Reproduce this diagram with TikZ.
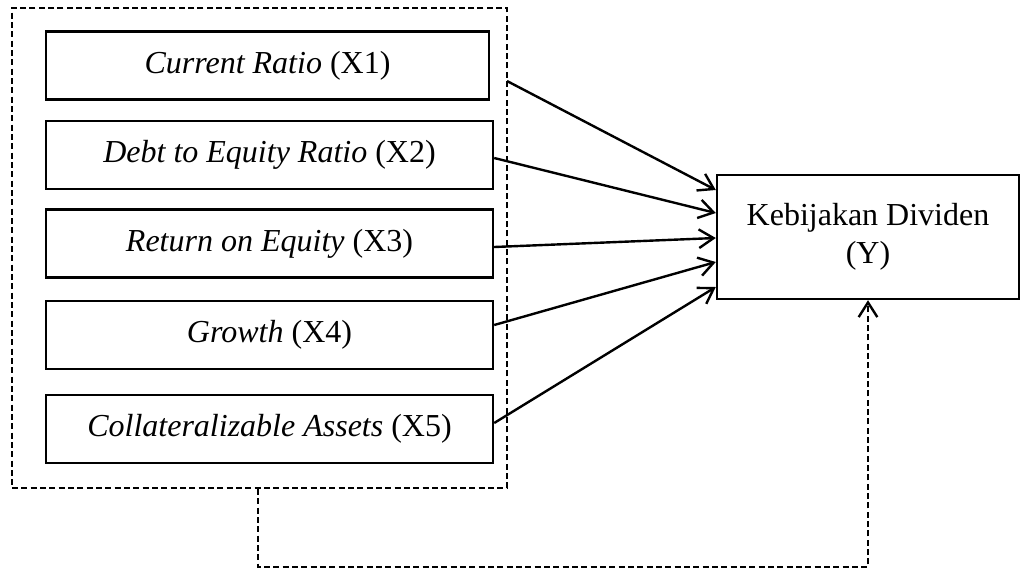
\documentclass[tikz,border=0pt]{standalone}
\usepackage{fontspec}
\setmainfont{Liberation Serif}
\usetikzlibrary{arrows.meta,calc}
\begin{document}
\begin{tikzpicture}[x=0.75pt,y=-0.75pt,
  varbox/.style={draw,line width=1.8pt,rectangle,minimum height=51pt,inner sep=0pt,
    font=\fontsize{24}{28}\selectfont},
  groupbox/.style={draw,dash pattern=on 4.5pt off 2.5pt,line width=1.5pt,rectangle,inner sep=0pt},
  ybox/.style={draw,line width=1.8pt,rectangle,inner sep=0pt,align=center,
    font=\fontsize{24}{28.5}\selectfont},
  arr/.style={line width=1.8pt,-{Straight Barb[length=11pt,width=14pt,line width=1.8pt]}},
  darr/.style={line width=1.5pt,dash pattern=on 4.5pt off 2.5pt,-{Straight Barb[length=11pt,width=14pt,line width=1.8pt]}}
]
\useasboundingbox (0,0) rectangle (1021,569);
\node[groupbox,minimum width=371.25pt,minimum height=360pt] (outer) at (259.5,248) {};
\node[varbox,minimum width=332.25pt] (b1) at (267.5,65.5) {\textit{Current Ratio} (X1)};
\node[varbox,minimum width=335.25pt] (b2) at (269.5,155) {\textit{Debt to Equity Ratio} (X2)};
\node[varbox,minimum width=335.25pt] (b3) at (269.5,243.5) {\textit{Return on Equity} (X3)};
\node[varbox,minimum width=335.25pt] (b4) at (269.5,335) {\textit{Growth} (X4)};
\node[varbox,minimum width=335.25pt] (b5) at (269.5,429) {\textit{Collateralizable Assets} (X5)};
\node[ybox,minimum width=226.5pt,minimum height=93pt] (y) at (868,237) {Kebijakan Dividen\\(Y)};
\coordinate (s1) at (507,81);
\draw[arr] (s1) -- ($(y.west)+(0,-47)$);
\draw[arr] ($(b2.east)+(0,3)$) -- ($(y.west)+(0,-24)$);
\draw[arr] ($(b3.east)+(0,3.5)$) -- ($(y.west)+(0,1)$);
\draw[arr] ($(b4.east)+(0,-10)$) -- ($(y.west)+(0,25)$);
\draw[arr] ($(b5.east)+(0,-6)$) -- ($(y.west)+(0,50)$);
\coordinate (c1) at (258,567);
\draw[darr] (outer.south -| c1) -- (c1) -- (c1 -| y.south) -- (y.south);
\end{tikzpicture}
\end{document}
